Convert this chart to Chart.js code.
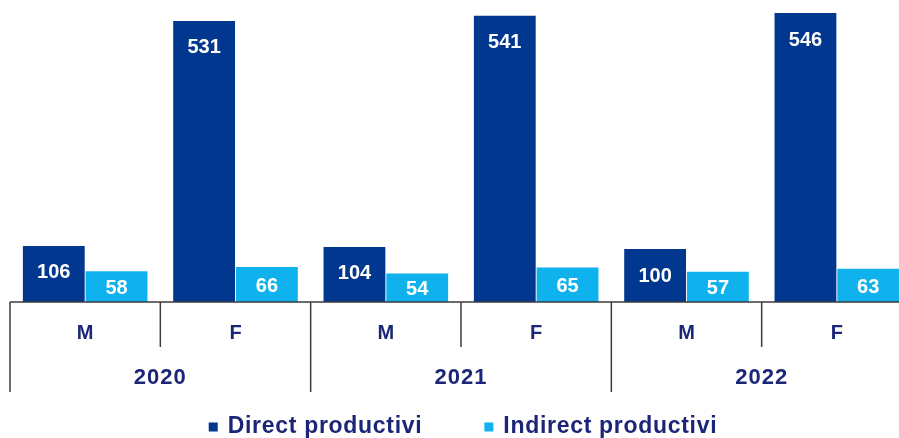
<!DOCTYPE html>
<html>
<head>
<meta charset="utf-8">
<script src="https://cdn.jsdelivr.net/npm/chart.js@4/dist/chart.umd.min.js"></script>
<style>
  html, body { margin: 0; padding: 0; background: #fff; overflow: hidden; }
  #wrap { position: absolute; left: 0; top: 0; width: 922px; height: 438px; }
</style>
</head>
<body>
<div id="wrap"><canvas id="chart" width="922" height="438"></canvas></div>
<script>
const categories = ["M", "F", "M", "F", "M", "F"];
const years = ["2020", "2021", "2022"];
const directValues = [106, 531, 104, 541, 100, 546];
const indirectValues = [58, 66, 54, 65, 57, 63];
const seriesNames = ["Direct productivi", "Indirect productivi"];

const darkBlue = "#023790";
const lightBlue = "#0fb2ec";
const textNavy = "#1c2678";
const lineGray = "#3c3c3c";
const fontFamily = "'Liberation Sans', Arial, sans-serif";

// labels inside bars, axis lines, year row and legend
const decorPlugin = {
  id: "decor",
  afterDatasetsDraw(chart) {
    const ctx = chart.ctx;
    ctx.save();
    ctx.fillStyle = "#fff";
    ctx.font = "bold 20px " + fontFamily;
    ctx.textAlign = "center";
    ctx.textBaseline = "middle";
    chart.data.datasets.forEach((ds, i) => {
      chart.getDatasetMeta(i).data.forEach((bar, j) => {
        const top = bar.y;
        const base = bar.base;
        const y = Math.min(top + 27, (top + base) / 2 + 2);
        ctx.fillText(String(ds.data[j]), bar.x, y);
      });
    });
    ctx.restore();
  },
  afterDraw(chart) {
    const ctx = chart.ctx;
    const x = chart.scales.x;
    const area = chart.chartArea;
    const step = x.getPixelForValue(1) - x.getPixelForValue(0);
    const base = area.bottom;

    ctx.save();
    ctx.strokeStyle = lineGray;
    ctx.lineWidth = 1.5;
    ctx.beginPath();
    ctx.moveTo(area.left, base);
    ctx.lineTo(area.right, base);
    for (let k = 0; k <= categories.length; k++) {
      const px = x.getPixelForValue(0) - step / 2 + k * step;
      ctx.moveTo(px, base);
      ctx.lineTo(px, k % 2 === 0 ? base + 90 : base + 45);
    }
    ctx.stroke();

    ctx.fillStyle = textNavy;
    ctx.font = "bold 22px " + fontFamily;
    ctx.letterSpacing = "1px";
    ctx.textAlign = "center";
    ctx.textBaseline = "middle";
    years.forEach((yr, i) => {
      const cx = (x.getPixelForValue(i * 2) + x.getPixelForValue(i * 2 + 1)) / 2;
      ctx.fillText(yr, cx, base + 76);
    });

    // legend
    ctx.font = "bold 23px " + fontFamily;
    ctx.letterSpacing = "0.7px";
    ctx.textAlign = "left";
    const box = 9, boxGap = 10, itemGap = 62;
    const widths = seriesNames.map((n) => ctx.measureText(n).width);
    const total = widths.reduce((a, w) => a + box + boxGap + w, 0) + itemGap;
    let lx = (area.left + area.right) / 2 + 2 - total / 2;
    const ly = 427;
    chart.data.datasets.forEach((ds, i) => {
      ctx.fillStyle = ds.backgroundColor;
      ctx.fillRect(lx, ly - box / 2, box, box);
      ctx.fillStyle = textNavy;
      ctx.fillText(ds.label, lx + box + boxGap, ly);
      lx += box + boxGap + widths[i] + itemGap;
    });
    ctx.restore();
  }
};

new Chart(document.getElementById("chart"), {
  type: "bar",
  data: {
    labels: categories,
    datasets: [
      { label: seriesNames[0], data: directValues, backgroundColor: darkBlue },
      { label: seriesNames[1], data: indirectValues, backgroundColor: lightBlue }
    ]
  },
  options: {
    responsive: false,
    animation: false,
    devicePixelRatio: 1,
    layout: { padding: { left: 10, right: 10, top: 13, bottom: 0 } },
    datasets: {
      bar: { categoryPercentage: 0.835, barPercentage: 0.985, borderWidth: 0 }
    },
    plugins: {
      legend: { display: false },
      tooltip: { enabled: false }
    },
    scales: {
      y: {
        display: false,
        min: 0,
        max: Math.max(...directValues, ...indirectValues)
      },
      x: {
        grid: { display: false },
        border: { display: false },
        ticks: {
          color: textNavy,
          font: { family: fontFamily, size: 20, weight: "bold" },
          padding: 11,
          maxRotation: 0
        },
        afterFit(scale) {
          scale.height = 136;
        }
      }
    }
  },
  plugins: [decorPlugin]
});
</script>
</body>
</html>
